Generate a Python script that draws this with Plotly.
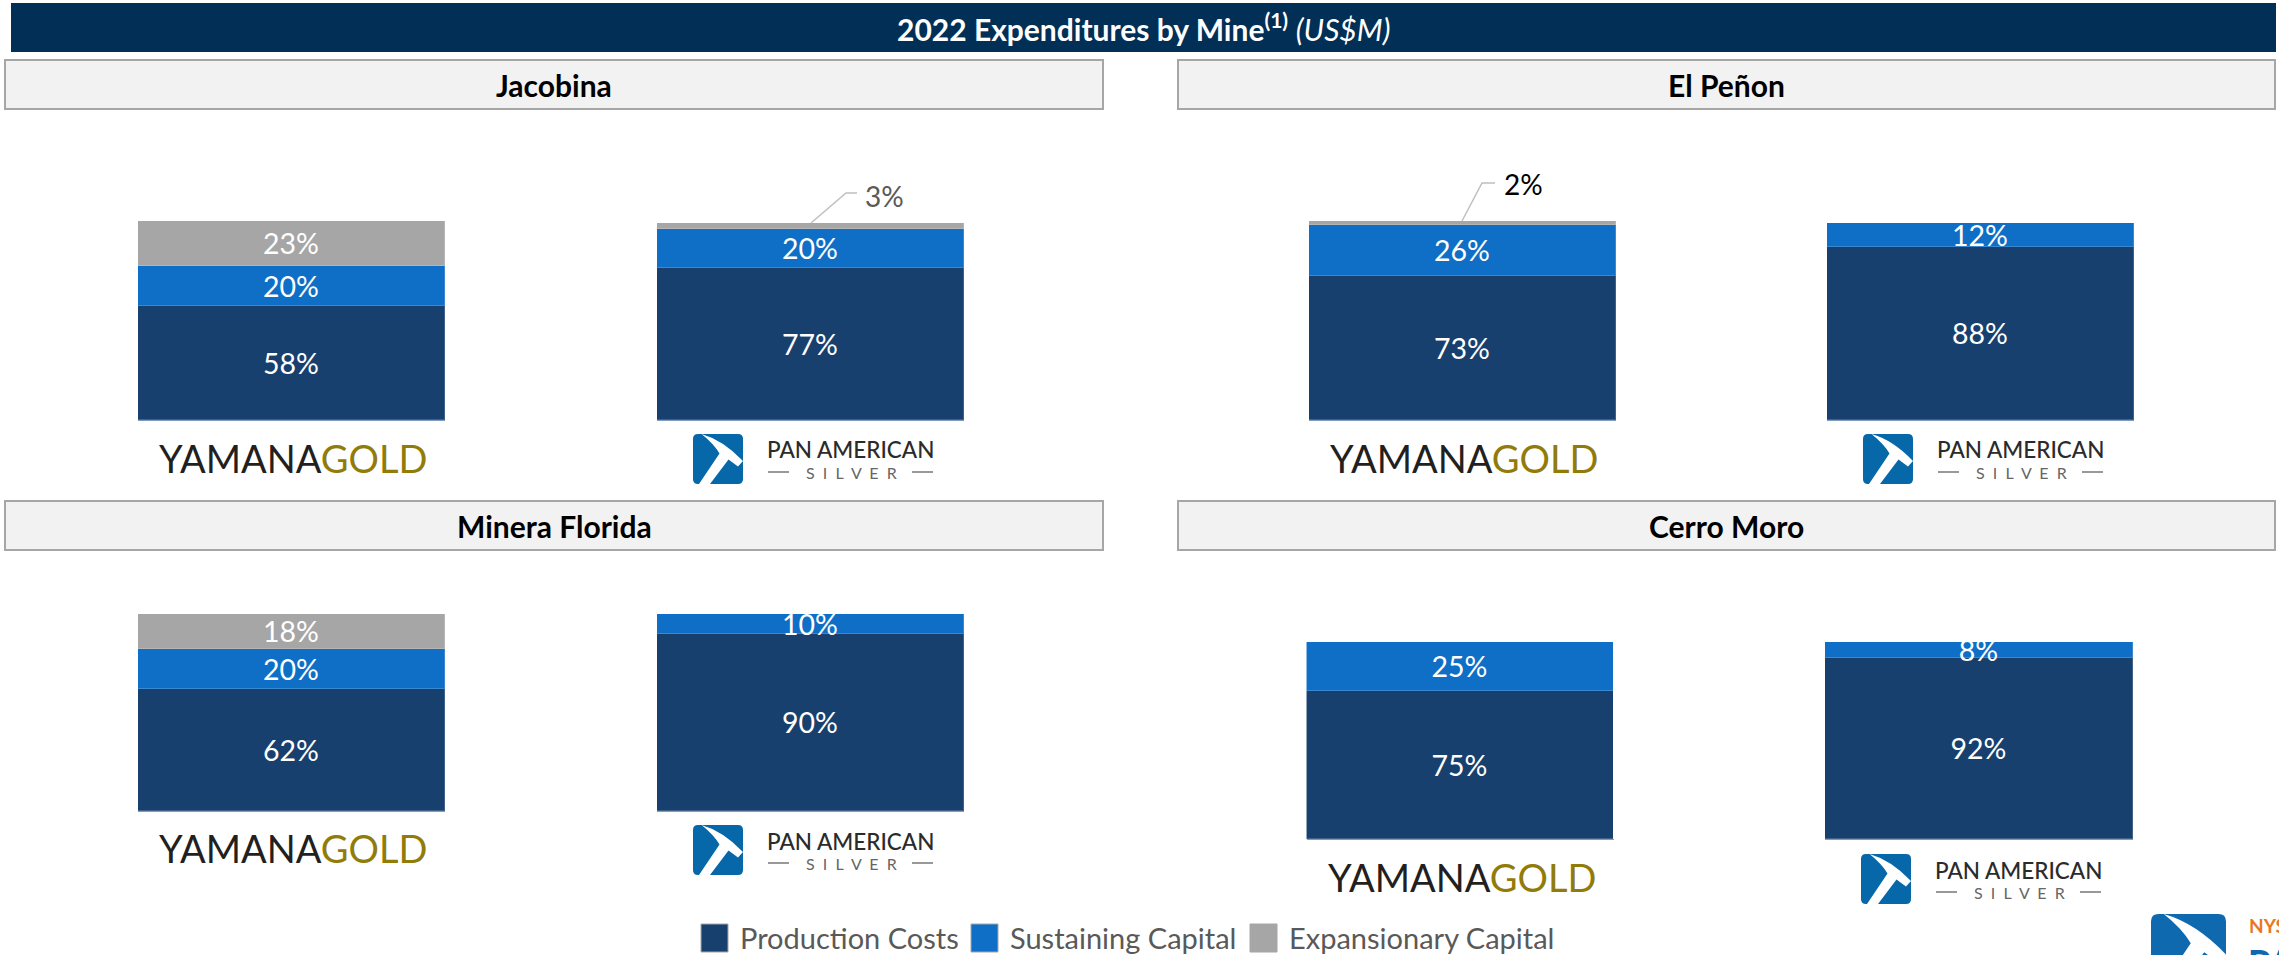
import plotly.graph_objects as go

W, H = 2279, 955
FONT = "Lato"

# ---- data -------------------------------------------------------------
title_main = "2022 Expenditures by Mine"
title_unit = "(US$M)"
mines = ["Jacobina", "El Peñon", "Minera Florida", "Cerro Moro"]
companies = ["Yamana Gold", "Pan American Silver"]
series_names = ["Production Costs", "Sustaining Capital", "Expansionary Capital"]
# order: Jacobina Y, Jacobina P, El Peñon Y, El Peñon P, Florida Y, Florida P, Cerro Y, Cerro P
production_costs = [58, 77, 73, 88, 62, 90, 75, 92]
sustaining_capital = [20, 20, 26, 12, 20, 10, 25, 8]
expansionary_capital = [23, 3, 2, 0, 18, 0, 0, 0]

# ---- styles / layout ---------------------------------------------------
C_PROD, C_SUST, C_EXP = "#18406E", "#0F6FC6", "#A6A6A6"
C_BLUE = "#0667A9"
# bar geometry in page pixels: left, right, top, bottom
boxes = [
    (138, 445, 221, 420), (657, 964, 223, 420),
    (1309, 1616, 221, 420), (1827, 2134, 223, 420),
    (138, 445, 614, 811), (657, 964, 614, 811),
    (1306.5, 1613.5, 642, 839), (1825, 2133, 642, 839),
]
panels = [(5, 1103, 60, 109), (1178, 2275, 60, 109), (5, 1103, 501, 550), (1178, 2275, 501, 550)]
logo_dy = [38, 14, 38, 14, 37, 14, 38, 15]


def fx(p):
    return p / W


def fy(p):
    return 1 - p / H


shapes, annos = [], []


def rect(x0, y0, x1, y1, fill, line=None, lw=0):
    shapes.append(dict(type="rect", xref="paper", yref="paper", x0=fx(x0), x1=fx(x1), y0=fy(y0), y1=fy(y1),
                       fillcolor=fill, line=dict(color=line or fill, width=lw), layer="below"))


def seg(pts, color, width):
    path = "M" + " L".join(f"{fx(x):.5f},{fy(y):.5f}" for x, y in pts)
    shapes.append(dict(type="path", xref="paper", yref="paper", path=path, line=dict(color=color, width=width)))


def text(x, y, s, size, color, anchor="center", weight=400, family=FONT):
    annos.append(dict(xref="paper", yref="paper", x=fx(x), y=fy(y), text=s, showarrow=False, xanchor=anchor,
                      yanchor="middle", borderpad=0, font=dict(family=family, size=size, color=color, weight=weight)))


def pick(x, y, s, color_bg=C_BLUE):
    """Pan American mark: rounded square with white pick, top-left (x, y), side s."""
    P = lambda u, v: f"{fx(x + u * s):.5f},{fy(y + v * s):.5f}"
    d = f"M{P(0.1,0)} L{P(0.9,0)} Q{P(1,0)} {P(1,0.1)} L{P(1,0.9)} Q{P(1,1)} {P(0.9,1)} L{P(0.1,1)} Q{P(0,1)} {P(0,0.9)} L{P(0,0.1)} Q{P(0,0)} {P(0.1,0)} Z"
    shapes.append(dict(type="path", xref="paper", yref="paper", path=d, fillcolor=color_bg, line=dict(width=0)))
    w = f"M{P(0.17,0)} Q{P(0.6,0.12)} {P(1,0.54)} L{P(0.9,0.65)} L{P(0.71,0.51)} L{P(0.34,1)} L{P(0.12,1)} L{P(0.53,0.39)} Q{P(0.42,0.2)} {P(0.17,0)} Z"
    shapes.append(dict(type="path", xref="paper", yref="paper", path=w, fillcolor="white", line=dict(width=0)))


# ---- header and panels -------------------------------------------------
rect(11, 3, 2276, 52, "#012F56")
text(1143, 27, f"<b>{title_main}<sup>(1)</sup></b> <i>{title_unit}</i>", 30, "white")
for (x0, x1, y0, y1), name in zip(panels, mines):
    rect(x0, y0, x1, y1, "#F2F2F2", "#A6A6A6", 2)
    text((x0 + x1) / 2, (y0 + y1) / 2, name, 30, "black", weight=700)

# ---- bars --------------------------------------------------------------
fig = go.Figure()
layout_axes = {}
colors = [C_PROD, C_SUST, C_EXP]
for i, (x0, x1, y0, y1) in enumerate(boxes):
    n = "" if i == 0 else str(i + 1)
    vals = [production_costs[i], sustaining_capital[i], expansionary_capital[i]]
    total = sum(vals)
    cat = f"{mines[i // 2]} – {companies[i % 2]}"
    for v, c, nm in zip(vals, colors, series_names):
        if v == 0:
            continue
        label = {}
        if v > 3:
            label = dict(text=[f"{v}%"], textposition="inside", insidetextanchor="middle", constraintext="none",
                         textangle=0, insidetextfont=dict(family=FONT, size=28.5, color="white"))
        fig.add_trace(go.Bar(
            x=[cat], y=[v], name=nm, xaxis=f"x{n}", yaxis=f"y{n}", showlegend=False, width=1, cliponaxis=False,
            marker=dict(color=c, line=dict(color="rgba(255,255,255,0.18)", width=1)), **label,
        ))
    layout_axes[f"xaxis{n}"] = dict(domain=[fx(x0), fx(x1)], anchor=f"y{n}", range=[-0.5, 0.5], type="category",
                                    showticklabels=False, ticks="", showgrid=False, showline=True,
                                    linecolor="#7F9BBF", linewidth=1, zeroline=False)
    layout_axes[f"yaxis{n}"] = dict(domain=[fy(y1), fy(y0)], anchor=f"x{n}", range=[0, total], visible=False,
                                    showgrid=False, zeroline=False)
    # logos
    ly = y1 + logo_dy[i]
    if i % 2 == 0:
        text(x0 + 155, ly, '<span style="color:#231F20">YAMANA</span><span style="color:#917C0A">GOLD</span>',
             38, "#231F20")
    else:
        pick(x0 + 36, ly, 50)
        text(x0 + 193, ly + 16, "PAN AMERICAN", 22.5, "#2B2B2B", weight=500)
        text(x0 + 194, ly + 38, "S\u00a0\u00a0I\u00a0\u00a0L\u00a0\u00a0V\u00a0\u00a0E\u00a0\u00a0R", 16, "#666666")
        seg([(x0 + 111, ly + 38), (x0 + 132, ly + 38)], "#777777", 1.5)
        seg([(x0 + 255, ly + 38), (x0 + 276, ly + 38)], "#777777", 1.5)

# ---- leader-line callouts ---------------------------------------------
seg([(811, 223), (846, 193), (857, 193)], "#BFBFBF", 1.5)
text(885, 196, "3%", 28, "#595959")
seg([(1462, 221), (1482, 183), (1495, 183)], "#BFBFBF", 1.5)
text(1523, 184, "2%", 28, "black")

# ---- legend ------------------------------------------------------------
legend_items = [(701, 739), (971, 1009), (1250, 1288)]
for (sx, tx), nm, c in zip(legend_items, series_names, colors):
    rect(sx, 924, sx + 27, 952, c, "#A6A6A6", 1)
    text(tx, 937.5, nm, 29, "#595959", anchor="left")

# ---- corner logo (cut by the page edge) -------------------------------
pick(2151, 914, 75, "#0F69AE")
text(2248, 925, "NYSE", 19, "#E87722", anchor="left", weight=700)
text(2247, 962, "PAN", 36, "#0F69AE", anchor="left", weight=900)

fig.update_layout(
    width=W, height=H, margin=dict(l=0, r=0, t=0, b=0), barmode="stack", bargap=0,
    paper_bgcolor="white", plot_bgcolor="white", showlegend=False,
    font=dict(family=FONT), shapes=shapes, annotations=annos, **layout_axes,
)
fig.write_html("out.html", config=dict(displayModeBar=False),
               post_script="document.body.style.margin='0';document.documentElement.style.overflow='hidden';")
